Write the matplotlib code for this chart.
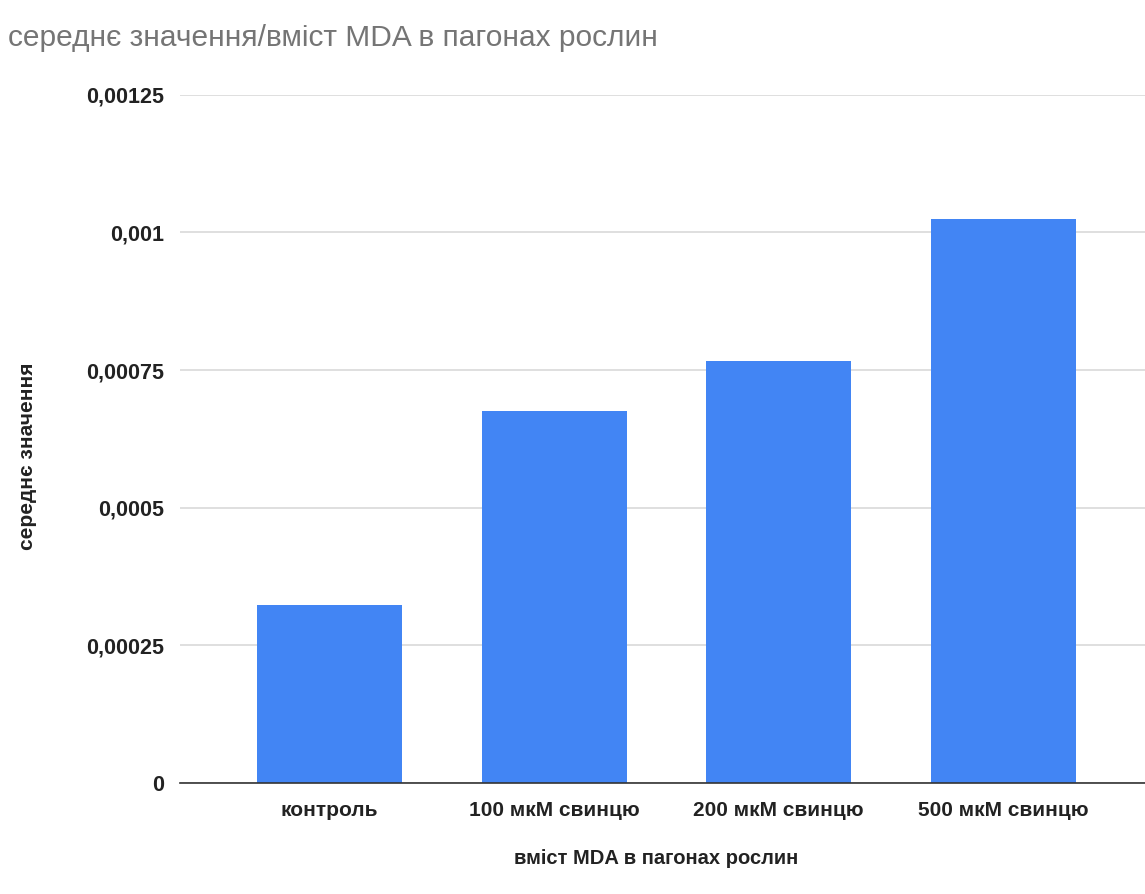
import matplotlib.pyplot as plt

# data
categories = ["контроль", "100 мкМ свинцю", "200 мкМ свинцю", "500 мкМ свинцю"]
values = [0.000324, 0.000676, 0.000767, 0.001025]
yticks = [0, 0.00025, 0.0005, 0.00075, 0.001, 0.00125]
ytick_labels = ["0", "0,00025", "0,0005", "0,00075", "0,001", "0,00125"]

plt.rcParams['font.family'] = ['Liberation Sans', 'DejaVu Sans']

fig = plt.figure(figsize=(11.45, 8.94), dpi=100)
ax = fig.add_axes([0.157, 0.124, 0.843, 0.77])

x = range(len(categories))
ax.bar(x, values, width=0.646, color="#4285F4", zorder=3)

ax.set_xlim(-0.666, 3.63)
ax.set_ylim(0, 0.00125)
ax.set_yticks(yticks)
ax.set_yticklabels(ytick_labels, fontsize=15.5, fontweight="bold", color="#222222")
ax.set_xticks(list(x))
ax.set_xticklabels(categories, fontsize=15, fontweight="bold", color="#222222")
ax.tick_params(axis="both", length=0)
ax.tick_params(axis="y", pad=11)
ax.tick_params(axis="x", pad=13)

ax.grid(axis="y", color="#d9d9d9", linewidth=1.2, zorder=0)
for side in ["top", "right", "left"]:
    ax.spines[side].set_visible(False)
ax.spines["bottom"].set_color("#333333")
ax.spines["bottom"].set_linewidth(1.2)
ax.spines["bottom"].set_zorder(4)

ax.set_xlabel("вміст MDA в пагонах рослин", fontsize=14.5, fontweight="bold",
              color="#222222")
ax.xaxis.set_label_coords(0.493, -0.095)
ax.set_ylabel("середнє значення", fontsize=15, fontweight="bold",
              color="#222222")
ax.yaxis.set_label_coords(-0.148, 0.475)

fig.text(0.007, 0.958, "середнє значення/вміст MDA в пагонах рослин",
         fontsize=21.5, color="#757575", ha="left", va="center")

fig.savefig("out.png", dpi=100)
